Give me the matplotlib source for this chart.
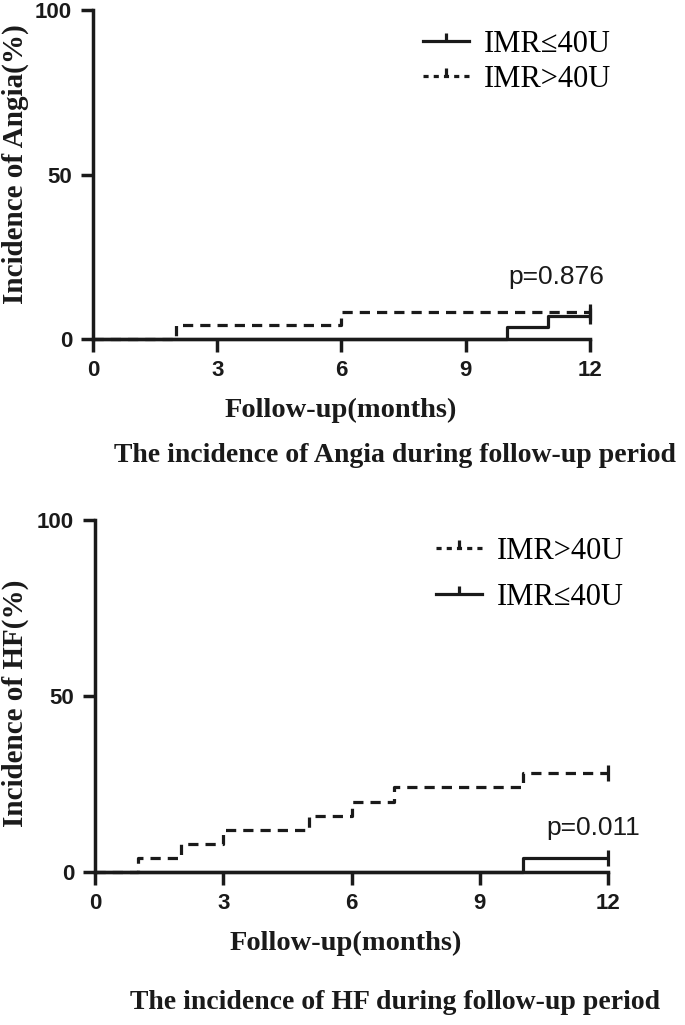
import matplotlib
matplotlib.use("Agg")
import matplotlib.pyplot as plt
from matplotlib.lines import Line2D
from matplotlib.path import Path

# ---- data ----
months_ticks = [0, 3, 6, 9, 12]
pct_ticks = [0, 50, 100]

angia_low_t = [0, 10, 11, 12]
angia_low_v = [0, 3.6, 7.1, 7.1]
angia_high_t = [0, 2, 6, 12]
angia_high_v = [0, 4.2, 8.3, 8.3]

hf_high_t = [0, 1, 2, 3, 5, 6, 7, 10, 12]
hf_high_v = [0, 4, 8, 12, 16, 20, 24, 28, 28]
hf_low_t = [0, 10, 12]
hf_low_v = [0, 4, 4]

lab_low = "IMR≤40U"
lab_high = "IMR>40U"
p_angia = "p=0.876"
p_hf = "p=0.011"

SERIF = ["Liberation Serif", "DejaVu Serif"]
SANS = ["Liberation Sans", "DejaVu Sans"]
INK = "#1a1a1a"

fig = plt.figure(figsize=(6.85, 10.25), dpi=100)

ax1 = fig.add_axes([0.1358, 0.6693, 0.861 - 0.1358, 0.990 - 0.6693])
ax2 = fig.add_axes([0.1387, 0.1493, 0.8876 - 0.1387, 0.4927 - 0.1493])

up_tick = Path([[0, 0], [0, 1]])
LW = 2.3
DASH = (0, (3.2, 2.2))
HDASH = (0, (1.6, 1.6))


def style(ax):
    ax.set_xlim(0, 12)
    ax.set_ylim(0, 100)
    ax.set_xticks(months_ticks)
    ax.set_yticks(pct_ticks)
    for s in ["top", "right"]:
        ax.spines[s].set_visible(False)
    for s in ["left", "bottom"]:
        ax.spines[s].set_linewidth(2.5)
        ax.spines[s].set_color(INK)
    ax.tick_params(width=2.5, length=9, direction="out", pad=6, color=INK)
    for lbl in ax.get_xticklabels() + ax.get_yticklabels():
        lbl.set_family(SANS)
        lbl.set_fontweight("bold")
        lbl.set_fontsize(16)
        lbl.set_color(INK)


def km(ax, t, v, dashed):
    ls = DASH if dashed else "-"
    ax.step(t, v, where="post", color=INK, lw=LW, linestyle=ls, clip_on=False,
            solid_capstyle="butt", dash_capstyle="butt")
    ax.plot([t[-1]], [v[-1]], marker="|", ms=12, mew=LW, color=INK,
            linestyle="none", clip_on=False)


def handle(dashed):
    return Line2D([0, 0.5, 1], [0, 0, 0], color=INK, lw=LW,
                  linestyle=HDASH if dashed else "-",
                  marker=up_tick, markevery=[1], ms=11, mew=LW)


LEG = dict(loc="upper left", frameon=False, handlelength=1.5, handletextpad=0.5,
           prop={"family": SERIF, "size": 22})

# --- top panel ---
style(ax1)
km(ax1, angia_high_t, angia_high_v, True)
km(ax1, angia_low_t, angia_low_v, False)
ax1.text(11.2, 19, p_angia, ha="center", va="center", fontsize=19, family=SANS, color=INK)
ax1.legend([handle(False), handle(True)], [lab_low, lab_high], bbox_to_anchor=(0.609, 1.025),
           labelspacing=0.2, **LEG)
fig.text(0.022, 0.840, "Incidence of Angia(%)", rotation=90, ha="center", va="center",
         family=SERIF, fontweight="bold", fontsize=21, color=INK)
fig.text(0.498, 0.600, "Follow-up(months)", ha="center", va="center",
         family=SERIF, fontweight="bold", fontsize=20.5, color=INK)
fig.text(0.577, 0.556, "The incidence of Angia during follow-up period", ha="center", va="center",
         family=SERIF, fontweight="bold", fontsize=20, color=INK)

# --- bottom panel ---
style(ax2)
km(ax2, hf_high_t, hf_high_v, True)
km(ax2, hf_low_t, hf_low_v, False)
ax2.text(11.66, 12.5, p_hf, ha="center", va="center", fontsize=19, family=SANS, color=INK)
ax2.legend([handle(True), handle(False)], [lab_high, lab_low], bbox_to_anchor=(0.611, 1.03),
           labelspacing=0.55, **LEG)
fig.text(0.022, 0.314, "Incidence of HF(%)", rotation=90, ha="center", va="center",
         family=SERIF, fontweight="bold", fontsize=21, color=INK)
fig.text(0.505, 0.080, "Follow-up(months)", ha="center", va="center",
         family=SERIF, fontweight="bold", fontsize=20.5, color=INK)
fig.text(0.577, 0.0215, "The incidence of HF during follow-up period", ha="center", va="center",
         family=SERIF, fontweight="bold", fontsize=20, color=INK)

fig.savefig("out.png", dpi=100)
